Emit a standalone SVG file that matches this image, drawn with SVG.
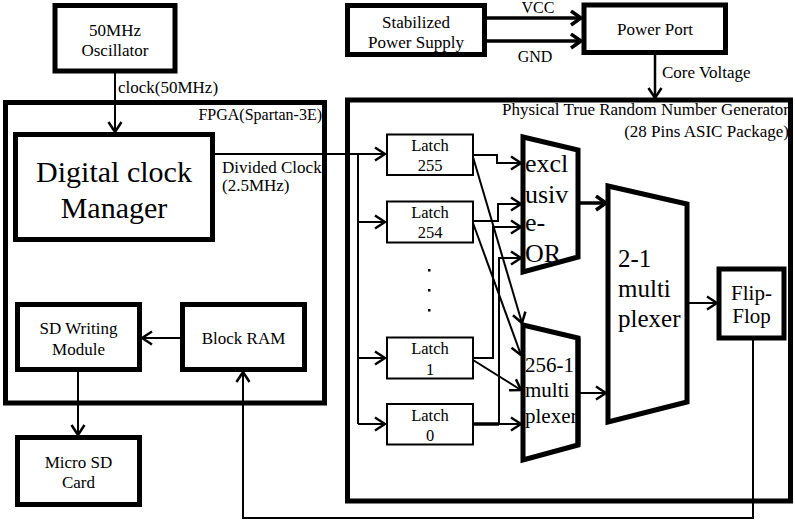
<svg xmlns="http://www.w3.org/2000/svg" width="795" height="523" viewBox="0 0 795 523">
<style>
text{font-family:"Liberation Serif","Times New Roman",serif;fill:#000}
.box{fill:#fff;stroke:#000;stroke-width:5}
.frame{fill:none;stroke:#000;stroke-width:5}
.latch{fill:#fff;stroke:#000;stroke-width:2}
.shape{fill:#fff;stroke:#000;stroke-width:5;stroke-linejoin:miter}
.w{fill:none;stroke:#000;stroke-width:2}
.a{fill:none;stroke:#000;stroke-width:2;marker-end:url(#arr)}
.at{fill:none;stroke:#000;stroke-width:3.5;marker-end:url(#arrT)}
.t17{font-size:17px}
.t16{font-size:16px}
.lt{font-size:16.5px}
.c{text-anchor:middle}
.r{text-anchor:end}
</style>
<defs>
<marker id="arr" viewBox="0 0 12 16" refX="11" refY="8" markerWidth="12" markerHeight="16" markerUnits="userSpaceOnUse" orient="auto">
<path d="M1,1.5 L11,8 L1,14.5" fill="none" stroke="#000" stroke-width="2.5"/>
</marker>
<marker id="arrT" viewBox="0 0 13 17" refX="11.5" refY="8.5" markerWidth="13" markerHeight="17" markerUnits="userSpaceOnUse" orient="auto">
<path d="M1.5,1.5 L11.5,8.5 L1.5,15.5" fill="none" stroke="#000" stroke-width="3.5"/>
</marker>
</defs>
<rect width="795" height="523" fill="#fff"/>

<g id="fpga">
<rect class="frame" x="5.5" y="102.5" width="319" height="300.5"/>
<text class="t16 r" x="322" y="120">FPGA(Spartan-3E)</text>
</g>
<g id="ptrng">
<rect class="frame" x="347.5" y="100" width="443" height="401"/>
<text class="t17 r" x="789" y="115">Physical True Random Number Generator</text>
<text class="t17 r" x="789" y="137">(28 Pins ASIC Package)</text>
</g>

<g id="connectors">
<path class="a" d="M115,71 V132"/>
<path class="a" d="M213,154 H385"/>
<path class="w" d="M358,154 V424"/>
<path class="a" d="M358,222 H385"/>
<path class="a" d="M358,358 H385"/>
<path class="a" d="M358,424 H385"/>
<path class="a" d="M473,155 H497 V163 H521"/>
<path class="a" d="M473,221 H498 V204 H521"/>
<path class="a" d="M473,358 H493 V227 H521"/>
<path class="w" d="M473,424 H499" style="stroke-width:3.5"/>
<path class="a" d="M499,424 V258 H521"/>
<path class="a" d="M499,424 H521"/>
<path class="a" d="M473,157 L522,323"/>
<path class="a" d="M473,223 L521,355"/>
<path class="a" d="M473,360 L521,390"/>
<path class="at" d="M578,203 H606"/>
<path class="a" d="M578,393 H606"/>
<path class="a" d="M687,303 H717"/>
<path class="a" d="M753,338 V518 H243 V372"/>
<path class="a" d="M181,338 H142"/>
<path class="a" d="M78,370 V435"/>
<path class="at" d="M485,18 H581"/>
<path class="at" d="M485,41 H581"/>
<path class="a" d="M655,53 V98" style="stroke-width:2.5"/>
<text class="t17" x="118" y="93">clock(50MHz)</text>
<text class="t17" x="222" y="173">Divided Clock</text>
<text class="t17" x="222" y="191">(2.5MHz)</text>
<text class="t16 c" x="538" y="13">VCC</text>
<text class="t16 c" x="535" y="62">GND</text>
<text class="t17" x="662" y="78">Core Voltage</text>
</g>

<g id="oscillator">
<rect class="box" x="55" y="5.5" width="120" height="65.5"/>
<text class="t17 c" x="115" y="36">50MHz</text>
<text class="t17 c" x="115" y="56">Oscillator</text>
</g>
<g id="dcm">
<rect class="box" x="15.5" y="134.5" width="197" height="105"/>
<text class="c" x="114" y="182" style="font-size:30px">Digital clock</text>
<text class="c" x="114" y="218" style="font-size:30px">Manager</text>
</g>
<g id="sd-writing">
<rect class="box" x="17.5" y="304.5" width="122" height="65"/>
<text class="t17 c" x="78.5" y="334">SD Writing</text>
<text class="t17 c" x="78.5" y="355">Module</text>
</g>
<g id="block-ram">
<rect class="box" x="182.5" y="304.5" width="122" height="65"/>
<text class="t17 c" x="243.5" y="344">Block RAM</text>
</g>
<g id="micro-sd">
<rect class="box" x="17.5" y="437.5" width="122" height="67"/>
<text class="t17 c" x="78.5" y="468">Micro SD</text>
<text class="t17 c" x="78.5" y="488">Card</text>
</g>
<g id="power-supply">
<rect class="box" x="347.5" y="5.5" width="137" height="49"/>
<text class="t17 c" x="416" y="28">Stabilized</text>
<text class="t17 c" x="416" y="48">Power Supply</text>
</g>
<g id="power-port">
<rect class="box" x="584" y="5" width="141.5" height="47.5"/>
<text class="t17 c" x="655" y="35">Power Port</text>
</g>

<g id="latch-255">
<rect class="latch" x="387" y="134.5" width="86" height="40.5"/>
<text class="lt c" x="430" y="151">Latch</text>
<text class="lt c" x="430" y="171">255</text>
</g>
<g id="latch-254">
<rect class="latch" x="387" y="201.5" width="86" height="41"/>
<text class="lt c" x="430" y="218">Latch</text>
<text class="lt c" x="430" y="238">254</text>
</g>
<g id="dots">
<rect x="428" y="269" width="2.5" height="2.5" fill="#000"/>
<rect x="428" y="289" width="2.5" height="2.5" fill="#000"/>
<rect x="428" y="309" width="2.5" height="2.5" fill="#000"/>
</g>
<g id="latch-1">
<rect class="latch" x="387" y="337.5" width="86" height="41"/>
<text class="lt c" x="430" y="354">Latch</text>
<text class="lt c" x="430" y="375">1</text>
</g>
<g id="latch-0">
<rect class="latch" x="387" y="404" width="86" height="40.5"/>
<text class="lt c" x="430" y="421">Latch</text>
<text class="lt c" x="430" y="441">0</text>
</g>

<g id="xor">
<polygon class="shape" points="523,137 578,150 578,257 523,272"/>
<text x="525" y="172" style="font-size:26px">excl</text>
<text x="525" y="203" style="font-size:26px">usiv</text>
<text x="525" y="231" style="font-size:26px">e-</text>
<text x="525" y="262" style="font-size:26px">OR</text>
</g>
<g id="mux256">
<polygon class="shape" points="523,325 578,338 578,445 523,460"/>
<text x="525" y="372" style="font-size:21px">256-1</text>
<text x="525" y="397" style="font-size:21px">multi</text>
<text x="525" y="423" style="font-size:21px">plexer</text>
<path d="M578,338 V445" stroke="#000" stroke-width="5"/>
</g>
<g id="mux21">
<polygon class="shape" points="608,186 687,204 687,402 608,422"/>
<text x="618" y="267" style="font-size:25px">2-1</text>
<text x="618" y="297" style="font-size:25px">multi</text>
<text x="618" y="327" style="font-size:25px">plexer</text>
</g>
<g id="flip-flop">
<rect class="box" x="719" y="269" width="65" height="69"/>
<text class="c" x="751.5" y="300" style="font-size:21px">Flip-</text>
<text class="c" x="751.5" y="323" style="font-size:21px">Flop</text>
</g>
</svg>
